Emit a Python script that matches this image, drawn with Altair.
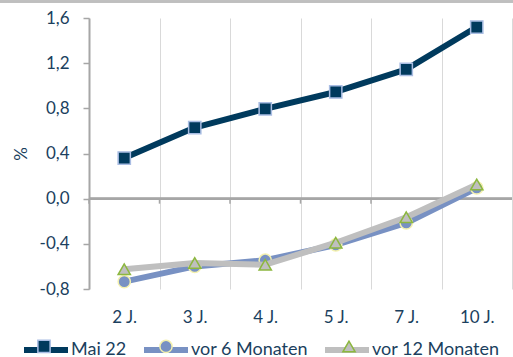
import altair as alt
import pandas as pd

# Laufzeiten und Renditen (in %)
laufzeiten = ["2 J.", "3 J.", "4 J.", "5 J.", "7 J.", "10 J."]
mai_22 = [0.36, 0.63, 0.795, 0.945, 1.145, 1.52]
vor_6_monaten = [-0.735, -0.60, -0.545, -0.41, -0.215, 0.095]
vor_12_monaten = [-0.625, -0.57, -0.585, -0.39, -0.165, 0.125]

serien = ["Mai 22", "vor 6 Monaten", "vor 12 Monaten"]
werte = [mai_22, vor_6_monaten, vor_12_monaten]

linien_farben = ["#003A5D", "#7891C3", "#BFBFBF"]
marker_fuellung = ["#003A5D", "#7891C3", "#BFBFBF"]
marker_rand = ["#A9BDE3", "#F4F1AE", "#8CB73F"]
marker_form = ["square", "circle", "triangle-up"]

TEXT = "#1B3F5E"
FONT = "Lato"

rows = []
for s, vals in zip(serien, werte):
    for lz, v in zip(laufzeiten, vals):
        rows.append({"laufzeit": lz, "wert": v, "serie": s, "marker": s})
df = pd.DataFrame(rows)
df_achse = pd.DataFrame({"laufzeit": laufzeiten})

W, H = 423, 271

x_scale = alt.Scale(type="band", domain=laufzeiten, paddingInner=0, paddingOuter=0)
y_scale = alt.Scale(domain=[-0.8, 1.6], nice=False)

x_axis = alt.Axis(
    title=None, domain=False, ticks=False, grid=True, tickBand="extent",
    gridColor="#D9D9D9", gridWidth=1, labelAngle=0, labelFont=FONT,
    labelFontSize=17, labelColor=TEXT, labelPadding=20,
)
y_axis = alt.Axis(
    title="%", values=[-0.8, -0.4, 0.0, 0.4, 0.8, 1.2, 1.6], format=".1f",
    domainColor="#A6A6A6", domainWidth=2, tickColor="#A6A6A6", tickWidth=1.5,
    tickSize=6, gridColor="#D9D9D9", gridWidth=1, labelFont=FONT,
    labelFontSize=17, labelColor=TEXT, labelPadding=14,
    titleFont=FONT, titleFontSize=17, titleColor=TEXT, titleFontWeight="normal",
    titleAngle=270, titleAlign="center", titleBaseline="middle",
    titleX=-68, titleY=H / 2,
)

# Legende aus zwei deckungsgleichen Teilen: Linien mit Beschriftung, darüber die Marker
line_legend = alt.Legend(
    title=None, orient="none", direction="horizontal", legendX=-68, legendY=307,
    symbolType="stroke", symbolStrokeWidth=6, symbolSize=44 * 44,
    labelFont=FONT, labelFontSize=18, labelColor=TEXT, labelOffset=0,
    columnPadding=5, padding=0,
)
marker_legend = alt.Legend(
    title=None, orient="none", direction="horizontal", legendX=-54, legendY=319,
    symbolSize=150, symbolStrokeWidth=1.5, symbolOpacity=1,
    labelFont=FONT, labelFontSize=18, labelColor=TEXT, labelOpacity=0,
    labelOffset=42, columnPadding=5, padding=0,
)

X = alt.X("laufzeit:N", scale=x_scale, axis=x_axis, sort=laufzeiten)
Y = alt.Y("wert:Q", scale=y_scale, axis=y_axis)

# waagerechte Achse bei 0 mit Teilstrichen an den Kategoriegrenzen
null_linie = alt.Chart(df_achse).mark_rule(color="#A6A6A6", strokeWidth=2).encode(
    y=alt.Y(datum=0, scale=y_scale, axis=y_axis),
    x=alt.value(0), x2=alt.value(W),
)
null_ticks = alt.Chart(df_achse).mark_tick(
    orient="vertical", size=5, yOffset=2.5, thickness=1.5, color="#A6A6A6", opacity=1
).encode(
    x=alt.X("laufzeit:N", scale=x_scale, axis=x_axis, sort=laufzeiten, bandPosition=0),
    y=alt.Y(datum=0, scale=y_scale, axis=y_axis),
)

layers = [null_linie, null_ticks]
base = alt.Chart(df)
for s in serien:
    sub = base.transform_filter(alt.datum.serie == s)
    line = sub.mark_line(strokeWidth=6, strokeJoin="round").encode(
        x=X, y=Y,
        color=alt.Color("serie:N", sort=serien, scale=alt.Scale(range=linien_farben),
                        legend=line_legend),
    )
    pts = sub.mark_point(filled=True, size=150, strokeWidth=1.5, opacity=1).encode(
        x=X, y=Y,
        fill=alt.Fill("marker:N", scale=alt.Scale(domain=serien, range=marker_fuellung),
                      legend=marker_legend),
        stroke=alt.Stroke("marker:N", scale=alt.Scale(domain=serien, range=marker_rand),
                          legend=marker_legend),
        shape=alt.Shape("marker:N", scale=alt.Scale(domain=serien, range=marker_form),
                        legend=marker_legend),
    )
    layers += [line, pts]

# obere Rahmenlinie des Diagramms
rahmen = alt.Chart(df_achse).mark_rule(color="#BFBFBF", strokeWidth=2).encode(
    x=alt.value(-89), x2=alt.value(W + 1), y=alt.value(-16.5)
)
layers.append(rahmen)

chart = alt.layer(*layers).properties(
    width=W, height=H,
    autosize=alt.AutoSizeParams(type="none"),
    padding={"left": 89, "top": 18, "right": 1, "bottom": 68},
).configure(
    background="white",
    locale={"number": {"decimal": ",", "thousands": ".", "grouping": [3],
                       "currency": ["", " €"], "minus": "-"}},
).configure_view(stroke=None)

chart.save("out.html", embed_options={"renderer": "svg", "actions": False})
